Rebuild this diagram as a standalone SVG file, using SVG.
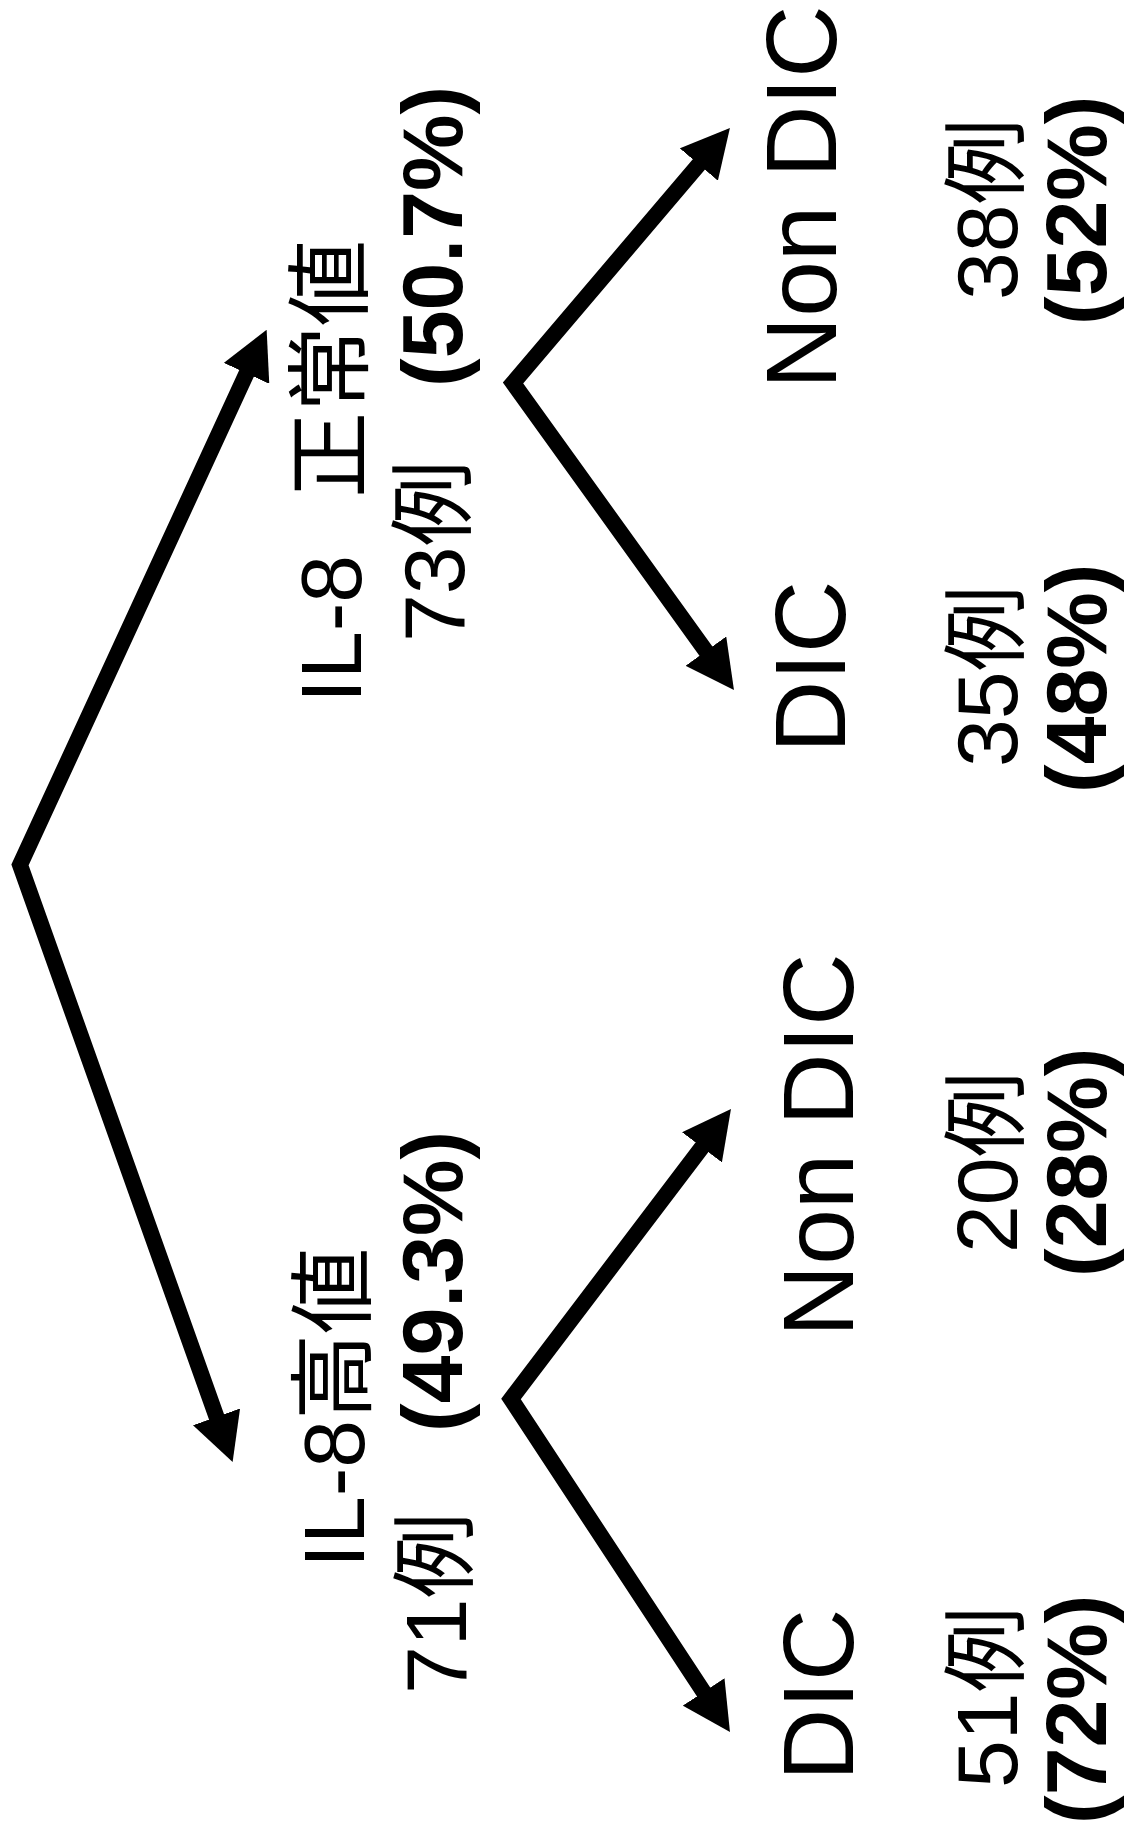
<svg xmlns="http://www.w3.org/2000/svg" width="1129" height="1827" viewBox="0 0 1129 1827">
<style>
.t { font-family: "Liberation Sans", "Noto Sans CJK JP", sans-serif; font-size: 86px; fill: #000; }
.big { font-size: 100px; }
.pct { font-weight: bold; font-size: 86px; }
.edge { fill: none; stroke: #000; stroke-width: 16; stroke-linejoin: miter; stroke-miterlimit: 10; marker-start: url(#ah); marker-end: url(#ah); }
</style>
<defs>
<marker id="ah" markerUnits="userSpaceOnUse" viewBox="0 0 48 50" refX="8" refY="25" markerWidth="48" markerHeight="50" orient="auto-start-reverse">
<path d="M0,0 L48,25 L0,50 Z" fill="#000"/>
</marker>
</defs>
<rect width="1129" height="1827" fill="#fff"/>
<g id="connectors">
<path class="edge" d="M249.9,366.1 L20,865 L219.2,1424.4"/>
<path class="edge" d="M704,158.4 L513,383 L710.6,657.6"/>
<path class="edge" d="M706.8,1140.9 L511,1399 L708,1698.6"/>
</g>
<g id="n-il8-normal">
<text class="t" transform="translate(361,703) rotate(-90)"><tspan>IL-8</tspan><tspan x="205">正常値</tspan></text>
<text class="t" transform="translate(464,642) rotate(-90)">73例</text>
<text class="t pct" transform="translate(462,387) rotate(-90)">(50.7%)</text>
</g>
<g id="n-il8-high">
<text class="t" transform="translate(364,1568) rotate(-90)">IL-8高値</text>
<text class="t" transform="translate(466,1694) rotate(-90)">71例</text>
<text class="t pct" transform="translate(462,1432) rotate(-90)">(49.3%)</text>
</g>
<g id="n-nondic-normal">
<text class="t big" transform="translate(836,389) rotate(-90)">Non DIC</text>
<text class="t" transform="translate(1017,300) rotate(-90)">38例</text>
<text class="t pct" transform="translate(1106,325) rotate(-90)">(52%)</text>
</g>
<g id="n-dic-normal">
<text class="t big" transform="translate(845,753) rotate(-90)">DIC</text>
<text class="t" transform="translate(1017,767) rotate(-90)">35例</text>
<text class="t pct" transform="translate(1106,793) rotate(-90)">(48%)</text>
</g>
<g id="n-nondic-high">
<text class="t big" transform="translate(853,1337) rotate(-90)">Non DIC</text>
<text class="t" transform="translate(1017,1253) rotate(-90)">20例</text>
<text class="t pct" transform="translate(1106,1277) rotate(-90)">(28%)</text>
</g>
<g id="n-dic-high">
<text class="t big" transform="translate(853,1781) rotate(-90)">DIC</text>
<text class="t" transform="translate(1017,1788) rotate(-90)">51例</text>
<text class="t pct" transform="translate(1106,1824) rotate(-90)">(72%)</text>
</g>
</svg>
